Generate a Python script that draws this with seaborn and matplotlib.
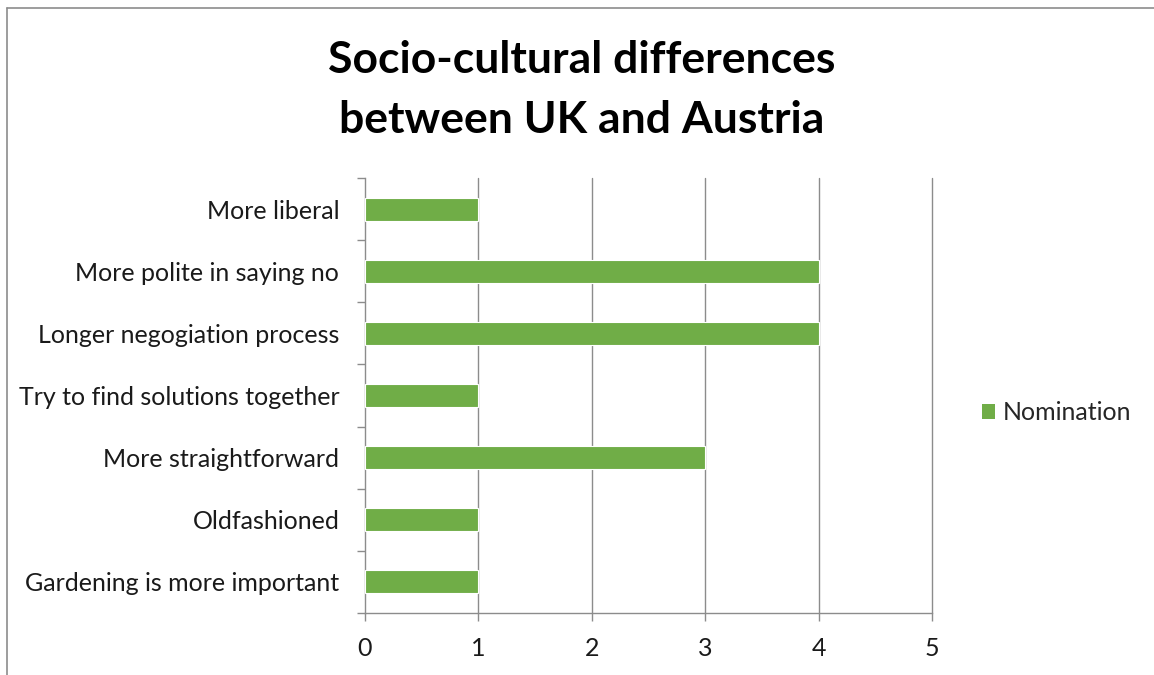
import matplotlib
matplotlib.use("Agg")
import matplotlib.pyplot as plt
from matplotlib.lines import Line2D
from matplotlib.patches import Rectangle
import numpy as np
import pandas as pd
import seaborn as sns

# Chart data
categories = [
    "More liberal",
    "More polite in saying no",
    "Longer negogiation process",
    "Try to find solutions together",
    "More straightforward",
    "Oldfashioned",
    "Gardening is more important",
]
nominations = [1, 4, 4, 1, 3, 1, 1]
x_ticks = [0, 1, 2, 3, 4, 5]
series_name = "Nomination"
title_text = "Socio-cultural differences\nbetween UK and Austria"

sns.set_theme(style="white")
plt.rcParams["font.family"] = ["Lato", "DejaVu Sans"]

BAR_GREEN = "#70AD47"
GRID_GREY = "#8C8C8C"
LABEL_SIZE = 18

df = pd.DataFrame({"category": categories, "value": nominations})

fig = plt.figure(figsize=(11.54, 6.75), dpi=100)
ax = fig.add_axes([365 / 1154, 1 - 613 / 675, (932 - 365) / 1154, (613 - 178) / 675])

sns.barplot(data=df, y="category", x="value", order=categories, orient="h",
            color=BAR_GREEN, saturation=1, width=0.37, edgecolor="white",
            linewidth=0.8, ax=ax, zorder=3)

ax.set_xlim(x_ticks[0], x_ticks[-1])
ax.set_ylim(len(categories) - 0.5, -0.5)
ax.set_xticks(x_ticks)
ax.set_xticklabels([str(t) for t in x_ticks])
ax.set_xlabel("")
ax.set_ylabel("")

# vertical gridlines
ax.grid(False)
for t in x_ticks[1:]:
    ax.axvline(t, color=GRID_GREY, linewidth=1.0, zorder=1, clip_on=False)

for side in ["top", "right"]:
    ax.spines[side].set_visible(False)
for side in ["left", "bottom"]:
    ax.spines[side].set_color(GRID_GREY)
    ax.spines[side].set_linewidth(1.0)

# y ticks sit between categories, labels at category centres
ax.set_yticks(np.arange(len(categories)))
ax.set_yticklabels(categories)
ax.set_yticks(np.arange(-0.5, len(categories) + 0.5, 1.0), minor=True)
ax.tick_params(axis="y", which="major", length=0, pad=18.5, labelsize=LABEL_SIZE, labelcolor="#1a1a1a")
ax.tick_params(axis="y", which="minor", length=6, width=1.0, color=GRID_GREY, left=True)
ax.tick_params(axis="x", which="major", length=6, width=1.0, color=GRID_GREY, bottom=True,
               pad=11, labelsize=LABEL_SIZE, labelcolor="#1a1a1a")

fig.suptitle(title_text, x=582 / 1154, y=1 - 40 / 675, fontsize=32, fontweight="bold",
             linespacing=1.62, va="top", color="black")

# legend
handle = Rectangle((0, 0), 1, 1, facecolor=BAR_GREEN, edgecolor="none")
fig.legend([handle], [series_name], loc="center left",
           bbox_to_anchor=(969 / 1154, 1 - 413 / 675), frameon=False,
           fontsize=LABEL_SIZE, handlelength=0.55, handleheight=0.55, handletextpad=0.3,
           borderpad=0)

# chart frame
fig.add_artist(Line2D([6.5 / 1154, 6.5 / 1154], [0, 1 - 8 / 675], transform=fig.transFigure,
                      color="#8C8C8C", linewidth=1.2))
fig.add_artist(Line2D([6.5 / 1154, 1], [1 - 8 / 675, 1 - 8 / 675], transform=fig.transFigure,
                      color="#8C8C8C", linewidth=1.2))

fig.savefig("out.png", dpi=100, facecolor="white")
